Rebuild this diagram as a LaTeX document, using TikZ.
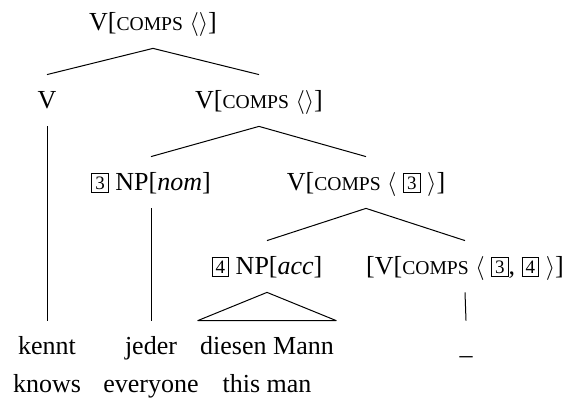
\documentclass[tikz,border=0pt]{standalone}
\usepackage{fontspec}
\setmainfont{Liberation Serif}
\usepackage{tikz}
\usetikzlibrary{positioning}
\newcommand{\featname}[1]{{\fontsize{9.8}{9.8}\selectfont\MakeUppercase{#1}}}
\newcommand{\tagbox}[1]{{\setlength{\fboxsep}{1.2pt}\setlength{\fboxrule}{0.4pt}%
  \raisebox{0.9pt}{\fbox{\makebox[5.6pt]{\fontsize{9.5}{9.5}\selectfont #1}}}}}
\newcommand{\comps}{\featname{comps}}
\tikzset{
  cat/.style={anchor=base,inner xsep=1pt,inner ysep=5.5pt,text height=11.5pt,
              text depth=3pt,font=\fontsize{13}{15}\selectfont},
  word/.style={cat,inner xsep=1pt},
  gloss/.style={inner xsep=1pt,inner ysep=0pt,text height=9pt,text depth=3pt,
                font=\fontsize{13}{15}\selectfont},
  branch/.style={line width=0.5pt}
}

\begin{document}
\begin{tikzpicture}[x=0.5pt,y=-0.5pt,line join=round]
  \useasboundingbox (0,0) rectangle (568,399);

  % Categories
  \node[cat] (root) at (153,31) {V[\comps\ $\langle\rangle$]};
  \node[cat] (verb) at (47,109) {V};
  \node[cat] (vbar) at (259,109) {V[\comps\ $\langle\rangle$]};
  \node[cat] (npnom) at (151,191) {\tagbox{3} NP[\textit{nom}]};
  \node[cat] (vthree) at (366,191) {V[\comps\ $\langle$ \tagbox{3} $\rangle$]};
  \node[cat] (npacc) at (267,275) {\tagbox{4} NP[\textit{acc}]};
  \node[cat] (vtrace) at (465,275)
    {[V[\comps\ $\langle$ \tagbox{3}, \tagbox{4} $\rangle$]};

  % Words
  \node[word] (kennt) at (47,355) {kennt};
  \node[word] (jeder) at (151,355) {jeder};
  \node[word] (dm) at (267,355) {diesen Mann};
  \node[word] (gap) at (466,355) {\_};

  % Glosses
  \node[gloss,below=1pt of kennt] (knows) {knows};
  \node[gloss,below=1pt of jeder] (everyone) {everyone};
  \node[gloss,below=1pt of dm] (thisman) {this man};

  % Branches
  \draw[branch] (verb.north) -- (root.south) -- (vbar.north);
  \draw[branch] (npnom.north) -- (vbar.south) -- (vthree.north);
  \draw[branch] (npacc.north) -- (vthree.south) -- (vtrace.north);
  \draw[branch] (verb.south) -- (kennt.north);
  \draw[branch] (npnom.south) -- (jeder.north);
  \draw[branch] (npacc.south) -- (dm.north west) -- (dm.north east) -- cycle;
  \draw[branch] (vtrace.south) -- (gap.north);
\end{tikzpicture}
\end{document}
